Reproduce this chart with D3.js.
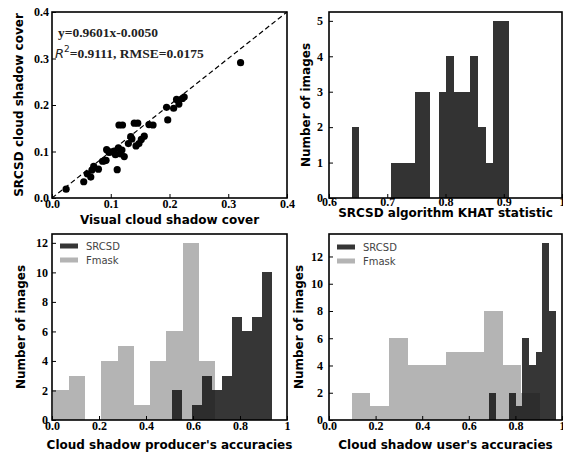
<!DOCTYPE html>
<html>
<head>
<meta charset="utf-8">
<script src="https://cdn.jsdelivr.net/npm/d3@7"></script>
<style>
  body { margin: 0; background: #fff; }
  svg { display: block; }
</style>
</head>
<body>
<svg id="chart"></svg>
<script>
// --- scatter: visual vs SRCSD cloud shadow cover ---
const visualCover = [0.024, 0.054, 0.060, 0.066, 0.068, 0.071, 0.079, 0.086, 0.092, 0.093,
  0.100, 0.106, 0.111, 0.113, 0.116, 0.119, 0.123, 0.114, 0.120, 0.130,
  0.134, 0.136, 0.140, 0.146, 0.143, 0.148, 0.152, 0.157, 0.165, 0.172,
  0.197, 0.195, 0.207, 0.212, 0.216, 0.222, 0.225, 0.321, 0.097, 0.089, 0.108];
const srcsdCover = [0.019, 0.035, 0.052, 0.045, 0.060, 0.068, 0.062, 0.079, 0.081, 0.104,
  0.099, 0.101, 0.061, 0.108, 0.095, 0.103, 0.089, 0.157, 0.157, 0.117,
  0.132, 0.127, 0.161, 0.161, 0.112, 0.117, 0.126, 0.133, 0.158, 0.157,
  0.168, 0.195, 0.193, 0.212, 0.202, 0.214, 0.217, 0.291, 0.098, 0.080, 0.093];

// --- KHAT histogram ---
const khatEdges = [0.639, 0.652, 0.666, 0.680, 0.693, 0.707, 0.720, 0.734, 0.747, 0.761, 0.774,
  0.788, 0.801, 0.815, 0.828, 0.842, 0.855, 0.869, 0.882, 0.896, 0.909];
const khatCounts = [2, 0, 0, 0, 0, 1, 1, 1, 3, 3, 0, 3, 4, 3, 3, 4, 2, 1, 5, 5];

// --- producer's accuracies ---
const prodEdgesSrcsd = [0.509, 0.552, 0.594, 0.637, 0.680, 0.722, 0.765, 0.808, 0.851, 0.893, 0.936];
const prodCountsSrcsd = [2, 0, 1, 3, 2, 3, 7, 6, 7, 10];
const prodEdgesFmask = [0.003, 0.072, 0.141, 0.210, 0.279, 0.348, 0.417, 0.486, 0.556, 0.625, 0.694];
const prodCountsFmask = [2, 3, 0, 4, 5, 1, 4, 6, 12, 4];

// --- user's accuracies ---
const userEdgesSrcsd = [0.688, 0.716, 0.745, 0.773, 0.802, 0.830, 0.859, 0.887, 0.916, 0.944, 0.973];
const userCountsSrcsd = [2, 0, 0, 2, 1, 6, 4, 5, 13, 8];
const userEdgesFmask = [0.097, 0.178, 0.259, 0.340, 0.421, 0.502, 0.583, 0.664, 0.745, 0.826, 0.907];
const userCountsFmask = [2, 1, 6, 4, 4, 5, 5, 8, 4, 2];

const seriesNames = ["SRCSD", "Fmask"];

const width = 563;
const height = 455;
const svg = d3.select("#chart").attr("width", width).attr("height", height);

const tickFont = "'Liberation Serif', 'Times New Roman', serif";
const labelFont = "'DejaVu Sans', sans-serif";
const darkFill = "#1a1a1a";
const darkOpacity = 0.88;
const lightFill = "#b4b4b4";

function makePanel(cfg) {
  const b = cfg.box;
  const x = d3.scaleLinear().domain(cfg.xDomain).range([b.left, b.right]);
  const y = d3.scaleLinear().domain(cfg.yDomain).range([b.bottom, b.top]);
  const g = svg.append("g");

  // x axis
  const xAxis = g.append("g")
    .attr("transform", `translate(0, ${b.bottom})`)
    .call(d3.axisBottom(x).tickValues(cfg.xTicks).tickFormat(cfg.xFmt)
      .tickSizeInner(-4).tickSizeOuter(0).tickPadding(cfg.xPad));
  // y axis
  const yAxis = g.append("g")
    .attr("transform", `translate(${b.left}, 0)`)
    .call(d3.axisLeft(y).tickValues(cfg.yTicks).tickFormat(cfg.yFmt)
      .tickSizeInner(-4).tickSizeOuter(0).tickPadding(cfg.yPad));

  [xAxis, yAxis].forEach(a => {
    a.select(".domain").remove();
    a.selectAll("line").attr("stroke", "#000").attr("stroke-width", 1);
    a.selectAll("text")
      .attr("fill", "#000")
      .style("font-family", tickFont)
      .style("font-weight", "bold")
      .style("font-size", "12px");
  });

  // axis labels
  g.append("text")
    .attr("x", (b.left + b.right) / 2 + (cfg.xLabelShift || 0))
    .attr("y", cfg.xLabelY)
    .attr("text-anchor", "middle")
    .style("font-family", labelFont)
    .style("font-weight", "bold")
    .style("font-size", "12px")
    .text(cfg.xLabel);

  g.append("text")
    .attr("transform", `translate(${cfg.yLabelX}, ${(b.top + b.bottom) / 2}) rotate(-90)`)
    .attr("text-anchor", "middle")
    .attr("dy", "0.35em")
    .style("font-family", labelFont)
    .style("font-weight", "bold")
    .style("font-size", "12px")
    .text(cfg.yLabel);

  return { g, x, y, b };
}

function drawHist(p, edges, counts, fill, opacity) {
  const bins = counts.map((c, i) => ({ x0: edges[i], x1: edges[i + 1], c })).filter(d => d.c > 0);
  p.g.insert("g", ":first-child")
    .selectAll("rect")
    .data(bins)
    .join("rect")
    .attr("x", d => p.x(d.x0))
    .attr("width", d => p.x(d.x1) - p.x(d.x0))
    .attr("y", d => p.y(d.c))
    .attr("height", d => p.y(0) - p.y(d.c))
    .attr("fill", fill)
    .attr("fill-opacity", opacity)
    .attr("shape-rendering", "crispEdges");
}

function drawFrame(p) {
  p.g.append("rect")
    .attr("x", p.b.left).attr("y", p.b.top)
    .attr("width", p.b.right - p.b.left).attr("height", p.b.bottom - p.b.top)
    .attr("fill", "none").attr("stroke", "#000").attr("stroke-width", 1.6);
}

function drawLegend(p, lx, ly) {
  const items = [
    { name: seriesNames[0], fill: darkFill, op: darkOpacity },
    { name: seriesNames[1], fill: lightFill, op: 1 }
  ];
  items.forEach((it, i) => {
    p.g.append("rect")
      .attr("x", lx).attr("y", ly + i * 14 - 2.5)
      .attr("width", 18).attr("height", 5)
      .attr("fill", it.fill).attr("fill-opacity", it.op);
    p.g.append("text")
      .attr("x", lx + 26).attr("y", ly + i * 14)
      .attr("dy", "0.35em")
      .style("font-family", labelFont)
      .style("font-size", "10px")
      .attr("fill", "#444")
      .text(it.name);
  });
}

const fmt1 = d3.format(".1f");
const fmtAcc = d => d === 1 ? "1" : d3.format(".1f")(d);
const fmtInt = d3.format("d");

// panel 1: scatter
const p1 = makePanel({
  box: { left: 52, right: 287, top: 12, bottom: 198 },
  xDomain: [0, 0.4], yDomain: [0, 0.4],
  xTicks: [0, 0.1, 0.2, 0.3, 0.4], yTicks: [0, 0.1, 0.2, 0.3, 0.4],
  xFmt: fmt1, yFmt: fmt1, xPad: 1, yPad: 3,
  xLabel: "Visual cloud shadow cover", xLabelY: 224,
  yLabel: "SRCSD cloud shadow cover", yLabelX: 19
});
p1.g.append("line")
  .attr("x1", p1.x(0)).attr("y1", p1.y(0))
  .attr("x2", p1.x(0.4)).attr("y2", p1.y(0.4))
  .attr("stroke", "#000").attr("stroke-width", 1.2)
  .attr("stroke-dasharray", "5,3");
p1.g.append("g")
  .selectAll("circle")
  .data(visualCover.map((v, i) => [v, srcsdCover[i]]))
  .join("circle")
  .attr("cx", d => p1.x(d[0]))
  .attr("cy", d => p1.y(d[1]))
  .attr("r", 3.6)
  .attr("fill", "#000");
p1.g.append("text")
  .attr("x", 58).attr("y", 37)
  .style("font-family", tickFont).style("font-weight", "bold").style("font-size", "13.5px")
  .attr("fill", "#222")
  .text("y=0.9601x-0.0050");
const eq2 = p1.g.append("text").attr("x", 55).attr("y", 58).attr("fill", "#222");
eq2.append("tspan").style("font-family", labelFont).style("font-style", "italic").style("font-size", "13px").text("R");
eq2.append("tspan").attr("dy", -6).style("font-family", labelFont).style("font-size", "9px").text("2");
eq2.append("tspan").attr("dy", 6).style("font-family", tickFont).style("font-weight", "bold").style("font-size", "13.5px").text("=0.9111, RMSE=0.0175");
drawFrame(p1);

// panel 2: KHAT histogram
const p2 = makePanel({
  box: { left: 329, right: 562, top: 12, bottom: 198 },
  xDomain: [0.6, 1.0], yDomain: [0, 5.25],
  xTicks: [0.6, 0.7, 0.8, 0.9, 1.0], yTicks: [0, 1, 2, 3, 4, 5],
  xFmt: fmtAcc, yFmt: fmtInt, xPad: -1, yPad: 6,
  xLabel: "SRCSD algorithm KHAT statistic", xLabelY: 217,
  yLabel: "Number of images", yLabelX: 306
});
drawHist(p2, khatEdges, khatCounts, "#333", 1);
drawFrame(p2);

// panel 3: producer's accuracies
const p3 = makePanel({
  box: { left: 52, right: 287, top: 234, bottom: 420 },
  xDomain: [0, 1], yDomain: [0, 12.6],
  xTicks: [0, 0.2, 0.4, 0.6, 0.8, 1], yTicks: [0, 2, 4, 6, 8, 10, 12],
  xFmt: fmtAcc, yFmt: fmtInt, xPad: 1, yPad: 4,
  xLabel: "Cloud shadow producer's accuracies", xLabelY: 449,
  yLabel: "Number of images", yLabelX: 21
});
drawHist(p3, prodEdgesSrcsd, prodCountsSrcsd, darkFill, darkOpacity);
drawHist(p3, prodEdgesFmask, prodCountsFmask, lightFill, 1);
drawLegend(p3, 60, 246);
drawFrame(p3);

// panel 4: user's accuracies
const p4 = makePanel({
  box: { left: 329, right: 562, top: 234, bottom: 420 },
  xDomain: [0, 1], yDomain: [0, 13.65],
  xTicks: [0, 0.2, 0.4, 0.6, 0.8, 1], yTicks: [0, 2, 4, 6, 8, 10, 12],
  xFmt: fmtAcc, yFmt: fmtInt, xPad: 1, yPad: 6,
  xLabel: "Cloud shadow user's accuracies", xLabelY: 449,
  yLabel: "Number of images", yLabelX: 299
});
drawHist(p4, userEdgesSrcsd, userCountsSrcsd, darkFill, darkOpacity);
drawHist(p4, userEdgesFmask, userCountsFmask, lightFill, 1);
drawLegend(p4, 337, 247);
drawFrame(p4);
</script>
</body>
</html>
